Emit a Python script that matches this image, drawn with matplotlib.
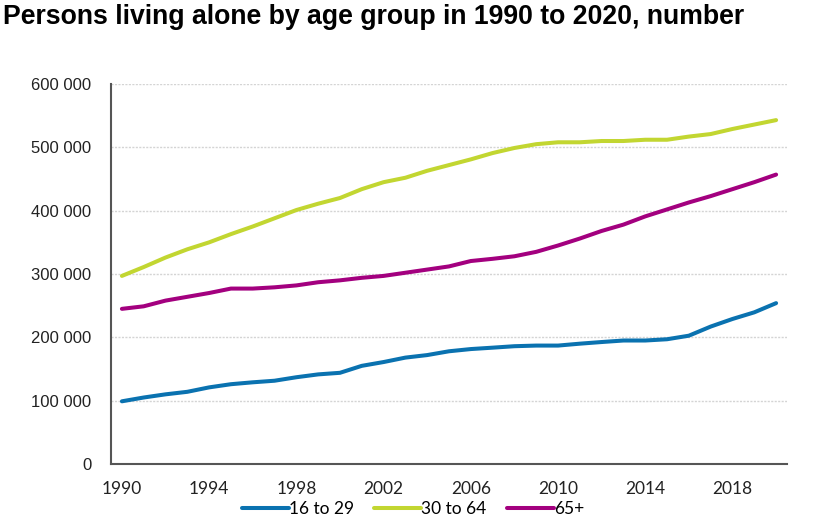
import matplotlib
matplotlib.use("Agg")
import matplotlib.pyplot as plt
from matplotlib.ticker import FuncFormatter

years = list(range(1990, 2021))

age_16_29 = [99000, 105000, 110000, 114000, 121000, 126000, 129000, 131500, 137000, 141500,
             144000, 155000, 161000, 168000, 172000, 178000, 181500, 183700, 186000, 187000,
             187000, 190000, 192600, 195000, 195000, 197000, 202600, 217000, 229000, 239500,
             254000]
age_30_64 = [297000, 311000, 326000, 339000, 350000, 363000, 375000, 388000, 401000, 411000,
             420000, 434000, 445000, 452000, 463000, 472000, 481000, 491000, 499000, 505000,
             508000, 508000, 510000, 510000, 512000, 512000, 517000, 521000, 529000, 536000,
             543000]
age_65_plus = [245000, 249000, 258000, 264000, 270000, 277000, 277000, 279000, 282000, 287000,
               290000, 294000, 297000, 302000, 307000, 312000, 320500, 324000, 328000, 335000,
               345000, 356000, 368000, 378000, 391000, 402000, 413000, 423000, 434000, 445000,
               457000]

series_labels = ["16 to 29", "30 to 64", "65+"]
series_colors = ["#0a72b0", "#c2d631", "#a3007f"]

title = "Persons living alone by age group in 1990 to 2020, number"

narrow = ["Lato", "DejaVu Sans"]
arial = ["Liberation Sans", "DejaVu Sans"]

fig = plt.figure(figsize=(8.18, 5.17), dpi=100)
ax = fig.add_axes([0.1357, 0.1025, 0.8264, 0.735])

x = list(range(len(years)))
for vals, lab, col in zip([age_16_29, age_30_64, age_65_plus], series_labels, series_colors):
    ax.plot(x, vals, color=col, linewidth=2.9, label=lab, solid_capstyle="round")

ax.set_xlim(-0.5, len(years) - 0.5)
ax.set_ylim(0, 600000)
ax.set_yticks(range(0, 600001, 100000))
ax.yaxis.set_major_formatter(FuncFormatter(lambda v, p: f"{int(v):,}".replace(",", " ")))
ax.set_xticks(x[::4])
ax.set_xticklabels([str(y) for y in years[::4]], family=narrow, fontsize=12.5)

ax.tick_params(axis="y", length=0, pad=14, labelsize=12, labelcolor="#222222")
ax.tick_params(axis="x", length=0, pad=12, labelcolor="#222222")
for lab in ax.get_yticklabels():
    lab.set_family(arial)

ax.grid(axis="y", color="#d4d4d4", linestyle=(0, (1.5, 1)), linewidth=1)
ax.set_axisbelow(True)
for s in ["top", "right"]:
    ax.spines[s].set_visible(False)
for s in ["left", "bottom"]:
    ax.spines[s].set_color("#555555")
    ax.spines[s].set_linewidth(1.5)

fig.text(0.004, 1 - 24 / 517, title, fontsize=19.2, fontweight="bold",
         family=arial, va="baseline", ha="left")

fig.legend(loc="center", bbox_to_anchor=(0.505, 0.0155), ncol=3, frameon=False,
           prop={"family": narrow, "size": 12.5}, handlelength=2.7, handletextpad=0.0,
           columnspacing=1.2, borderaxespad=0)

fig.savefig("out.png", dpi=100)
